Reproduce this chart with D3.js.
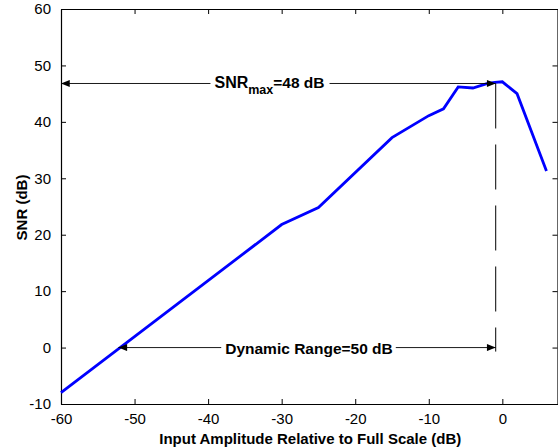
<!DOCTYPE html>
<html>
<head>
<meta charset="utf-8">
<script src="https://cdn.jsdelivr.net/npm/d3@7"></script>
<style>
  html, body { margin: 0; padding: 0; background: #fff; }
  svg { display: block; }
  text { font-family: "Liberation Sans", Arial, Helvetica, sans-serif; fill: #000; }
</style>
</head>
<body>
<svg id="chart" width="558" height="448"></svg>
<script>
// ---- data ----
const inputAmplitude = [-60, -30, -25, -15, -10, -8, -6, -4, -2, -1, 0, 2, 6];
const snrValues      = [-8.0, 21.8, 24.8, 37.2, 41.1, 42.3, 46.2, 46.0, 46.8, 47.0, 47.1, 45.0, 31.3];
const xTicks = [-60, -50, -40, -30, -20, -10, 0];
const yTicks = [-10, 0, 10, 20, 30, 40, 50, 60];
const xDomain = [-60, 7.5];
const yDomain = [-10, 60];
const xLabel = "Input Amplitude Relative to Full Scale (dB)";
const yLabel = "SNR (dB)";
// annotations (data coordinates)
const snrMaxLevel = 46.8;
const fullScaleX = -0.9;
const dynRangeLevel = 0;
const dynRangeStartX = -52.2;

// ---- layout ----
const svg = d3.select("#chart");
const mLeft = 61, mRight = 557.5, mTop = 9, mBottom = 404;
const x = d3.scaleLinear().domain(xDomain).range([mLeft, mRight]);
const y = d3.scaleLinear().domain(yDomain).range([mBottom, mTop]);

// arrowhead marker
const defs = svg.append("defs");
defs.append("marker").attr("id", "arrow")
  .attr("viewBox", "0 0 10 8").attr("refX", 10).attr("refY", 4)
  .attr("markerUnits", "userSpaceOnUse")
  .attr("markerWidth", 10).attr("markerHeight", 7).attr("orient", "auto")
  .append("path").attr("d", "M0,0 L10,4 L0,8 Z").attr("fill", "#000");

// axes (MATLAB-style box with inward ticks on all sides)
const tickLen = 5;
const fmt = d => String(d);
const bAxis = d3.axisBottom(x).tickValues(xTicks).tickSizeInner(-tickLen).tickSizeOuter(0).tickPadding(9).tickFormat(fmt);
const tAxis = d3.axisTop(x).tickValues(xTicks).tickSizeInner(-tickLen).tickSizeOuter(0).tickFormat("");
const lAxis = d3.axisLeft(y).tickValues(yTicks).tickSizeInner(-tickLen).tickSizeOuter(0).tickPadding(10).tickFormat(fmt);
const rAxis = d3.axisRight(y).tickValues(yTicks).tickSizeInner(-tickLen).tickSizeOuter(0).tickFormat("");

function styleAxis(g) {
  g.selectAll("path.domain").attr("stroke", "#000").attr("stroke-width", 1.2);
  g.selectAll(".tick line").attr("stroke", "#000").attr("stroke-width", 1);
  g.selectAll(".tick text").attr("font-size", 15).attr("fill", "#000")
    .style("font-family", "'Liberation Sans', Arial, sans-serif");
}
svg.append("g").attr("transform", `translate(0,${mBottom})`).call(bAxis).call(styleAxis);
svg.append("g").attr("transform", `translate(0,${mTop})`).call(tAxis).call(styleAxis);
svg.append("g").attr("transform", `translate(${mLeft},0)`).call(lAxis).call(styleAxis);
svg.append("g").attr("transform", `translate(${mRight},0)`).call(rAxis).call(styleAxis);

// axis labels
svg.append("text").attr("x", (mLeft + mRight) / 2 + 1).attr("y", 444)
  .attr("text-anchor", "middle").attr("font-size", 15).attr("font-weight", "bold")
  .text(xLabel);
svg.append("text").attr("transform", `translate(26.5,${207.5}) rotate(-90)`)
  .attr("text-anchor", "middle").attr("font-size", 15).attr("font-weight", "bold")
  .text(yLabel);

// data line
const pts = inputAmplitude.map((v, i) => [v, snrValues[i]]);
svg.append("path").datum(pts)
  .attr("fill", "none").attr("stroke", "#0000ff").attr("stroke-width", 2.8)
  .attr("stroke-linejoin", "miter")
  .attr("d", d3.line().x(d => x(d[0])).y(d => y(d[1])));

// dashed vertical marker at full scale
svg.append("line")
  .attr("x1", x(fullScaleX)).attr("x2", x(fullScaleX))
  .attr("y1", y(snrMaxLevel)).attr("y2", y(dynRangeLevel) + 4)
  .attr("stroke", "#000").attr("stroke-width", 1)
  .attr("stroke-dasharray", "45,16");

// SNRmax annotation
const ySnr = y(snrMaxLevel);
const snrText = svg.append("text").attr("x", 269.5).attr("y", ySnr + 5)
  .attr("text-anchor", "middle").attr("font-size", 15.5).attr("font-weight", "bold");
snrText.append("tspan").attr("font-size", 16).text("SNR");
snrText.append("tspan").attr("font-size", 12.5).attr("dy", 6).text("max");
snrText.append("tspan").attr("dy", -6).text("=48 dB");
const sb = snrText.node().getBBox();
svg.append("line").attr("x1", sb.x - 4).attr("x2", x(xDomain[0]))
  .attr("y1", ySnr).attr("y2", ySnr).attr("stroke", "#000").attr("stroke-width", 0.9)
  .attr("marker-end", "url(#arrow)");
svg.append("line").attr("x1", sb.x + sb.width + 5).attr("x2", x(fullScaleX))
  .attr("y1", ySnr).attr("y2", ySnr).attr("stroke", "#000").attr("stroke-width", 0.9)
  .attr("marker-end", "url(#arrow)");

// Dynamic range annotation
const yDr = y(dynRangeLevel);
const drText = svg.append("text").attr("x", 309).attr("y", yDr + 6)
  .attr("text-anchor", "middle").attr("font-size", 15.5).attr("font-weight", "bold")
  .text("Dynamic Range=50 dB");
const db = drText.node().getBBox();
svg.append("line").attr("x1", db.x - 4).attr("x2", x(dynRangeStartX))
  .attr("y1", yDr).attr("y2", yDr).attr("stroke", "#000").attr("stroke-width", 0.9)
  .attr("marker-end", "url(#arrow)");
svg.append("line").attr("x1", db.x + db.width + 3).attr("x2", x(fullScaleX))
  .attr("y1", yDr).attr("y2", yDr).attr("stroke", "#000").attr("stroke-width", 0.9)
  .attr("marker-end", "url(#arrow)");
</script>
</body>
</html>
